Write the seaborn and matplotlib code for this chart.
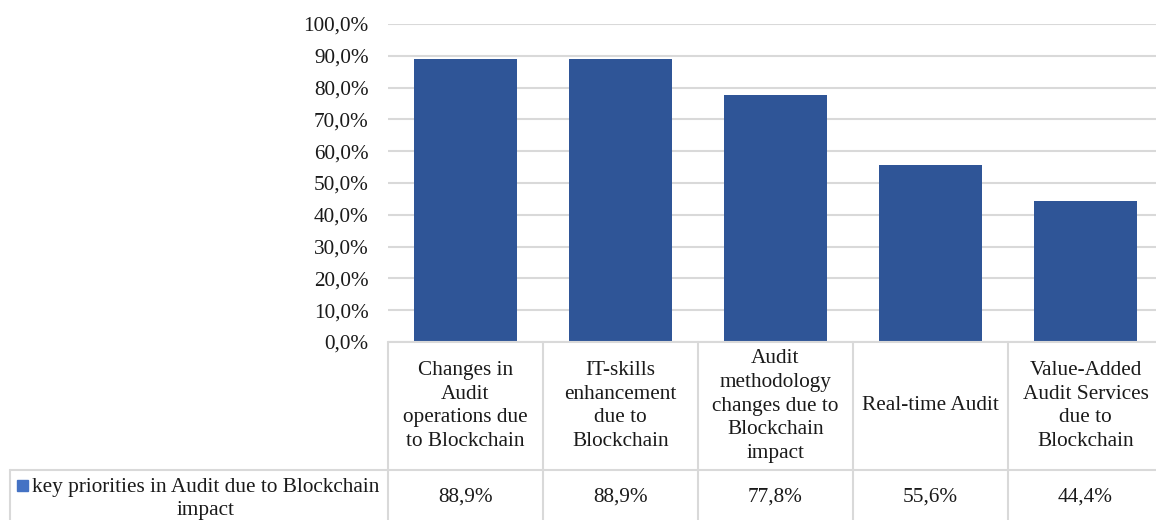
import matplotlib
matplotlib.use("Agg")
import matplotlib.pyplot as plt
import matplotlib.transforms as mtransforms
from matplotlib.lines import Line2D
from matplotlib.patches import Rectangle
import seaborn as sns
import pandas as pd

categories = [
    "Changes in\nAudit\noperations due\nto Blockchain",
    "IT-skills\nenhancement\ndue to\nBlockchain",
    "Audit\nmethodology\nchanges due to\nBlockchain\nimpact",
    "Real-time Audit",
    "Value-Added\nAudit Services\ndue to\nBlockchain",
]
values = [88.9, 88.9, 77.8, 55.6, 44.4]
value_labels = ["88,9%", "88,9%", "77,8%", "55,6%", "44,4%"]
series_name = "key priorities in Audit due to Blockchain\nimpact"
yticks = [0, 10, 20, 30, 40, 50, 60, 70, 80, 90, 100]
ytick_labels = ["0,0%", "10,0%", "20,0%", "30,0%", "40,0%", "50,0%",
                "60,0%", "70,0%", "80,0%", "90,0%", "100,0%"]

sns.set_theme(style="white")
plt.rcParams["font.family"] = ["Liberation Serif", "DejaVu Serif"]

FS = 15.3
TXT = "#1a1a1a"
W, H = 1156, 520
fig = plt.figure(figsize=(W / 100, H / 100), dpi=100)
left, right, top, bottom = 388, 1163, 24, 342
ax = fig.add_axes([left / W, 1 - bottom / H, (right - left) / W, (bottom - top) / H])

df = pd.DataFrame({"cat": list(range(len(categories))), "val": values})
bar_color = "#2F5597"
sns.barplot(data=df, x="cat", y="val", color=bar_color, width=2 / 3,
            saturation=1, ax=ax, order=list(range(len(categories))),
            linewidth=0)
ax.set_xlim(-0.5, len(categories) - 0.5)
ax.set_ylim(0, 100)
ax.set_yticks(yticks)
ax.set_yticklabels(ytick_labels, fontsize=FS, color=TXT)
ax.tick_params(axis="y", length=0, pad=14)
ax.set_xticks([])
ax.set_xlabel("")
ax.set_ylabel("")
for s in ax.spines.values():
    s.set_visible(False)
grid_c = "#d9d9d9"
ax.yaxis.grid(True, color=grid_c, linewidth=1.5)
ax.set_axisbelow(True)

# data table below the axes
tr = mtransforms.blended_transform_factory(ax.transData, ax.transAxes)
axh = bottom - top
def ya(py):
    return (bottom - py) / axh

y_top = ya(342)
y_bot = ya(530)
n = len(categories)
for i in range(n + 1):
    ax.add_line(Line2D([i - 0.5, i - 0.5], [y_top, y_bot], transform=tr,
                       color=grid_c, lw=1.5, clip_on=False))
ax.add_line(Line2D([-0.5, n - 0.5], [y_top, y_top], transform=tr,
                   color=grid_c, lw=1.5, clip_on=False))
fig.add_artist(Line2D([10 / W, right / W], [1 - 470 / H, 1 - 470 / H],
                      transform=fig.transFigure, color=grid_c, lw=1.5))
fig.add_artist(Line2D([10 / W, 10 / W], [1 - 470 / H, 0],
                      transform=fig.transFigure, color=grid_c, lw=1.5))

for i, (c, v) in enumerate(zip(categories, value_labels)):
    ax.text(i, ya(406), c, transform=tr, ha="center", va="center",
            fontsize=FS, color=TXT, linespacing=1.35, clip_on=False)
    ax.text(i, ya(497), v, transform=tr, ha="center", va="center",
            fontsize=FS, color=TXT, clip_on=False)

# legend cell
fig.add_artist(Rectangle((17 / W, 1 - 491 / H), 11 / W, 11 / H,
                         transform=fig.transFigure, color="#4472C4"))
fig.text(206 / W, 1 - 499 / H, series_name, ha="center", va="center",
         fontsize=FS, color=TXT, linespacing=1.35)

fig.savefig("out.png", dpi=100)
